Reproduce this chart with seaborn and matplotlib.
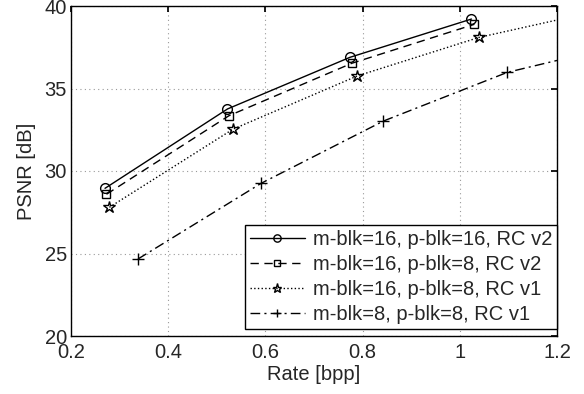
import numpy as np
import pandas as pd
import matplotlib
matplotlib.use("Agg")
import matplotlib.pyplot as plt
import seaborn as sns

# --- data ---
labels = [
    "m-blk=16, p-blk=16, RC v2",
    "m-blk=16, p-blk=8, RC v2",
    "m-blk=16, p-blk=8, RC v1",
    "m-blk=8, p-blk=8, RC v1",
]
rate_a = [0.270, 0.522, 0.774, 1.024]
psnr_a = [28.95, 33.76, 36.89, 39.21]
rate_b = [0.273, 0.525, 0.778, 1.030]
psnr_b = [28.59, 33.35, 36.53, 38.89]
# last point of these two curves has no marker (line runs on to the axes edge)
rate_c = [0.279, 0.533, 0.789, 1.040, 1.200]
psnr_c = [27.80, 32.53, 35.76, 38.10, 39.15]
rate_d = [0.338, 0.591, 0.843, 1.098, 1.200]
psnr_d = [24.67, 29.25, 33.03, 35.98, 36.70]

FS = 14.5

sns.set_theme(style="white")
plt.rcParams["font.family"] = ["Liberation Sans", "DejaVu Sans"]
plt.rcParams["font.size"] = FS

fig = plt.figure(figsize=(5.84, 3.94), dpi=100)
ax = fig.add_axes([71 / 584, 58 / 394, 486 / 584, 330 / 394])

series = [
    (rate_a, psnr_a, "-", "o", 7, None),
    (rate_b, psnr_b, (0, (6, 4)), "s", 5.5, None),
    (rate_c, psnr_c, ":", "*", 9, [0, 1, 2, 3]),
    (rate_d, psnr_d, (0, (7, 3, 1.5, 3)), "+", 8, [0, 1, 2, 3]),
]
for (x, y, ls, mk, ms, mev), lab in zip(series, labels):
    df = pd.DataFrame({"rate": x, "psnr": y})
    sns.lineplot(data=df, x="rate", y="psnr", ax=ax, color="black",
                 linestyle=ls, linewidth=1.0, marker=mk, markersize=ms,
                 markerfacecolor="none", markeredgecolor="black",
                 markeredgewidth=1.0, markevery=mev, label=lab)

ax.set_xlim(0.2, 1.2)
ax.set_ylim(20, 40)
ax.set_xticks([0.2, 0.4, 0.6, 0.8, 1.0, 1.2])
ax.set_xticklabels(["0.2", "0.4", "0.6", "0.8", "1", "1.2"])
ax.set_yticks([20, 25, 30, 35, 40])
ax.set_xlabel("Rate [bpp]", fontsize=FS, labelpad=2)
ax.set_ylabel("PSNR [dB]", fontsize=FS, labelpad=6)
ax.tick_params(axis="x", pad=5)
ax.tick_params(axis="y", pad=3)
ax.tick_params(direction="in", top=True, right=True, length=4,
               labelsize=FS, color="black")
ax.grid(True, linestyle=(0, (1, 3)), color="#999999", linewidth=0.8)
for s in ax.spines.values():
    s.set_color("black")
    s.set_linewidth(1.0)

leg = ax.legend(loc="lower right", bbox_to_anchor=(1.0, 0.02),
                borderaxespad=0, fancybox=False, framealpha=1,
                edgecolor="black", handlelength=2.7, handletextpad=0.4,
                labelspacing=0.3, borderpad=0.25, markerscale=0.75,
                fontsize=FS)
leg.get_frame().set_linewidth(1.0)

fig.savefig("out.png", dpi=100)
